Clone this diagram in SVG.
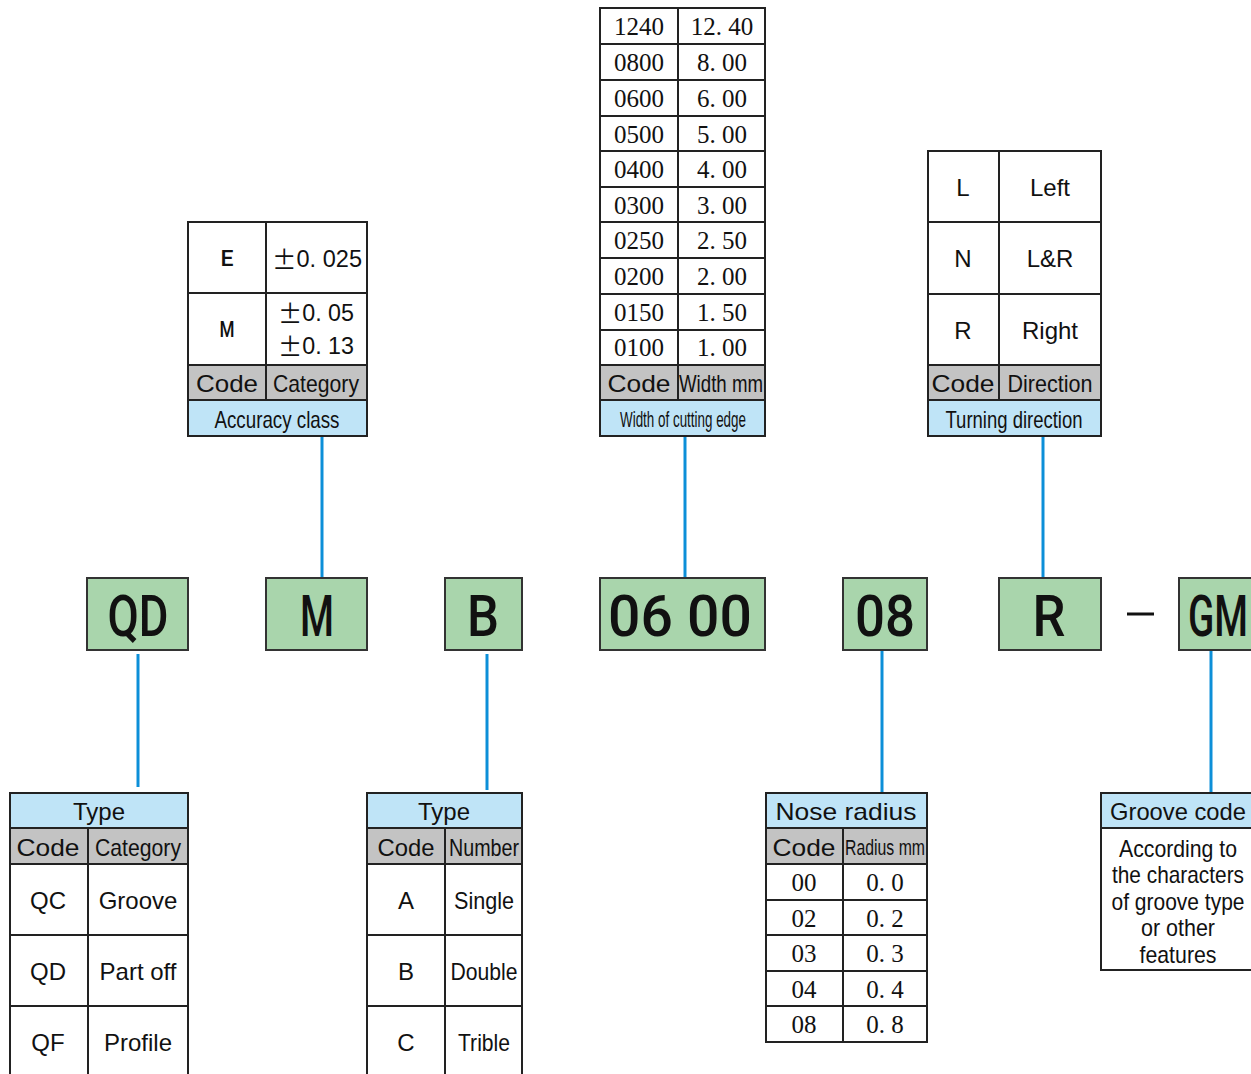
<svg xmlns="http://www.w3.org/2000/svg" width="1251" height="1074" viewBox="0 0 1251 1074">
<style>
.bg{fill:#ffffff}
.cell{fill:#ffffff;stroke:#222;stroke-width:2}
.ln{stroke:#222;stroke-width:2;fill:none}
.hdr{fill:#c3c3c3;stroke:#222;stroke-width:2}
.ttl{fill:#bfe4f7;stroke:#222;stroke-width:2}
.code{fill:#a9d5ac;stroke:#333;stroke-width:2}
.conn{stroke:#0c8fd8;stroke-width:3;fill:none}
text{font-family:"Liberation Sans",Arial,sans-serif;fill:#111;text-anchor:middle;dominant-baseline:central}
.t{font-size:24px}
.s{font-size:22px}
.em{font-family:Roboto,"Liberation Sans",sans-serif;font-weight:500;font-size:22px}
.pm{font-family:"Noto Sans CJK SC","Liberation Sans",sans-serif;font-size:25px}
.ser{font-family:"Liberation Serif","Times New Roman",serif;font-size:25px}
.big{font-family:Roboto,"Liberation Sans",sans-serif;font-weight:500;font-size:58px}
</style>
<rect class="bg" x="0" y="0" width="1251" height="1074"/>

<g id="connectors">
<line class="conn" x1="322" y1="436" x2="322" y2="578"/>
<line class="conn" x1="685" y1="436" x2="685" y2="578"/>
<line class="conn" x1="1043" y1="436" x2="1043" y2="578"/>
<line class="conn" x1="138" y1="654" x2="138" y2="787"/>
<line class="conn" x1="487" y1="654" x2="487" y2="790"/>
<line class="conn" x1="882" y1="651" x2="882" y2="793"/>
<line class="conn" x1="1211" y1="651" x2="1211" y2="793"/>
</g>

<g id="code-QD">
<rect class="code" x="87" y="578" width="101" height="72"/>
<text class="big" x="138" y="616" textLength="61" lengthAdjust="spacingAndGlyphs">QD</text>
</g>
<g id="code-M">
<rect class="code" x="266" y="578" width="101" height="72"/>
<text class="big" x="317" y="616" textLength="34" lengthAdjust="spacingAndGlyphs">M</text>
</g>
<g id="code-B">
<rect class="code" x="445" y="578" width="77" height="72"/>
<text class="big" x="483" y="616" textLength="32" lengthAdjust="spacingAndGlyphs">B</text>
</g>
<g id="code-0600">
<rect class="code" x="600" y="578" width="165" height="72"/>
<text class="big" x="680" y="616" textLength="144" lengthAdjust="spacingAndGlyphs">06 00</text>
</g>
<g id="code-08">
<rect class="code" x="843" y="578" width="84" height="72"/>
<text class="big" x="885" y="616" textLength="60" lengthAdjust="spacingAndGlyphs">08</text>
</g>
<g id="code-R">
<rect class="code" x="999" y="578" width="102" height="72"/>
<text class="big" x="1049" y="616" textLength="33" lengthAdjust="spacingAndGlyphs">R</text>
</g>
<g id="dash">
<line x1="1127" y1="614" x2="1154" y2="614" stroke="#111" stroke-width="3"/>
</g>
<g id="code-GM">
<rect class="code" x="1179" y="578" width="73" height="72"/>
<text class="big" x="1218" y="616" textLength="60" lengthAdjust="spacingAndGlyphs">GM</text>
</g>

<g id="table-accuracy">
<rect class="cell" x="188" y="222" width="179" height="214"/>
<rect class="hdr" x="188" y="365" width="179" height="35"/>
<rect class="ttl" x="188" y="400" width="179" height="36"/>
<line class="ln" x1="266" y1="222" x2="266" y2="400"/>
<line class="ln" x1="188" y1="293" x2="367" y2="293"/>
<text class="em" x="227" y="258" textLength="13" lengthAdjust="spacingAndGlyphs">E</text>
<text class="t" x="317" y="258" textLength="90" lengthAdjust="spacingAndGlyphs"><tspan class="pm">±</tspan>0. 025</text>
<text class="em" x="227" y="329" textLength="15" lengthAdjust="spacingAndGlyphs">M</text>
<text class="t" x="316" y="312" textLength="76" lengthAdjust="spacingAndGlyphs"><tspan class="pm">±</tspan>0. 05</text>
<text class="t" x="316" y="345" textLength="76" lengthAdjust="spacingAndGlyphs"><tspan class="pm">±</tspan>0. 13</text>
<text class="t" x="227" y="383" textLength="62" lengthAdjust="spacingAndGlyphs">Code</text>
<text class="t" x="316" y="383" textLength="86" lengthAdjust="spacingAndGlyphs">Category</text>
<text class="t" x="277" y="419" textLength="125" lengthAdjust="spacingAndGlyphs">Accuracy class</text>
</g>

<g id="table-width">
<rect class="cell" x="600" y="8" width="165" height="428"/>
<rect class="hdr" x="600" y="365" width="165" height="35"/>
<rect class="ttl" x="600" y="400" width="165" height="36"/>
<line class="ln" x1="678" y1="8" x2="678" y2="400"/>
<line class="ln" x1="600" y1="44" x2="765" y2="44"/>
<line class="ln" x1="600" y1="80" x2="765" y2="80"/>
<line class="ln" x1="600" y1="116" x2="765" y2="116"/>
<line class="ln" x1="600" y1="151" x2="765" y2="151"/>
<line class="ln" x1="600" y1="187" x2="765" y2="187"/>
<line class="ln" x1="600" y1="222" x2="765" y2="222"/>
<line class="ln" x1="600" y1="258" x2="765" y2="258"/>
<line class="ln" x1="600" y1="294" x2="765" y2="294"/>
<line class="ln" x1="600" y1="330" x2="765" y2="330"/>
<text class="ser" x="639" y="26">1240</text><text class="ser" x="722" y="26">12. 40</text>
<text class="ser" x="639" y="62">0800</text><text class="ser" x="722" y="62">8. 00</text>
<text class="ser" x="639" y="98">0600</text><text class="ser" x="722" y="98">6. 00</text>
<text class="ser" x="639" y="134">0500</text><text class="ser" x="722" y="134">5. 00</text>
<text class="ser" x="639" y="169">0400</text><text class="ser" x="722" y="169">4. 00</text>
<text class="ser" x="639" y="205">0300</text><text class="ser" x="722" y="205">3. 00</text>
<text class="ser" x="639" y="240">0250</text><text class="ser" x="722" y="240">2. 50</text>
<text class="ser" x="639" y="276">0200</text><text class="ser" x="722" y="276">2. 00</text>
<text class="ser" x="639" y="312">0150</text><text class="ser" x="722" y="312">1. 50</text>
<text class="ser" x="639" y="347">0100</text><text class="ser" x="722" y="347">1. 00</text>
<text class="t" x="639" y="383" textLength="63" lengthAdjust="spacingAndGlyphs">Code</text>
<text class="t" x="721" y="383" textLength="84" lengthAdjust="spacingAndGlyphs">Width mm</text>
<text class="s" x="683" y="419" textLength="126" lengthAdjust="spacingAndGlyphs">Width of cutting edge</text>
</g>

<g id="table-direction">
<rect class="cell" x="928" y="151" width="173" height="285"/>
<rect class="hdr" x="928" y="365" width="173" height="35"/>
<rect class="ttl" x="928" y="400" width="173" height="36"/>
<line class="ln" x1="999" y1="151" x2="999" y2="400"/>
<line class="ln" x1="928" y1="222" x2="1101" y2="222"/>
<line class="ln" x1="928" y1="294" x2="1101" y2="294"/>
<text class="t" x="963" y="187">L</text><text class="t" x="1050" y="187">Left</text>
<text class="t" x="963" y="258">N</text><text class="t" x="1050" y="258">L&amp;R</text>
<text class="t" x="963" y="330">R</text><text class="t" x="1050" y="330">Right</text>
<text class="t" x="963" y="383" textLength="63" lengthAdjust="spacingAndGlyphs">Code</text>
<text class="t" x="1050" y="383" textLength="85" lengthAdjust="spacingAndGlyphs">Direction</text>
<text class="t" x="1014" y="419" textLength="137" lengthAdjust="spacingAndGlyphs">Turning direction</text>
</g>

<g id="table-type">
<rect class="cell" x="10" y="793" width="178" height="295"/>
<rect class="ttl" x="10" y="793" width="178" height="35"/>
<rect class="hdr" x="10" y="828" width="178" height="36"/>
<line class="ln" x1="88" y1="828" x2="88" y2="1080"/>
<line class="ln" x1="10" y1="935" x2="188" y2="935"/>
<line class="ln" x1="10" y1="1006" x2="188" y2="1006"/>
<text class="t" x="99" y="811">Type</text>
<text class="t" x="48" y="847" textLength="63" lengthAdjust="spacingAndGlyphs">Code</text>
<text class="t" x="138" y="847" textLength="86" lengthAdjust="spacingAndGlyphs">Category</text>
<text class="t" x="48" y="900">QC</text><text class="t" x="138" y="900">Groove</text>
<text class="t" x="48" y="971">QD</text><text class="t" x="138" y="971">Part off</text>
<text class="t" x="48" y="1042">QF</text><text class="t" x="138" y="1042">Profile</text>
</g>

<g id="table-number">
<rect class="cell" x="367" y="793" width="155" height="295"/>
<rect class="ttl" x="367" y="793" width="155" height="35"/>
<rect class="hdr" x="367" y="828" width="155" height="36"/>
<line class="ln" x1="445" y1="828" x2="445" y2="1080"/>
<line class="ln" x1="367" y1="935" x2="522" y2="935"/>
<line class="ln" x1="367" y1="1006" x2="522" y2="1006"/>
<text class="t" x="444" y="811">Type</text>
<text class="t" x="406" y="847" textLength="57" lengthAdjust="spacingAndGlyphs">Code</text>
<text class="t" x="484" y="847" textLength="70" lengthAdjust="spacingAndGlyphs">Number</text>
<text class="t" x="406" y="900">A</text><text class="t" x="484" y="900" textLength="60" lengthAdjust="spacingAndGlyphs">Single</text>
<text class="t" x="406" y="971">B</text><text class="t" x="484" y="971" textLength="67" lengthAdjust="spacingAndGlyphs">Double</text>
<text class="t" x="406" y="1042">C</text><text class="t" x="484" y="1042" textLength="52" lengthAdjust="spacingAndGlyphs">Trible</text>
</g>

<g id="table-nose">
<rect class="cell" x="766" y="793" width="161" height="249"/>
<rect class="ttl" x="766" y="793" width="161" height="35"/>
<rect class="hdr" x="766" y="828" width="161" height="36"/>
<line class="ln" x1="843" y1="828" x2="843" y2="1042"/>
<line class="ln" x1="766" y1="900" x2="927" y2="900"/>
<line class="ln" x1="766" y1="935" x2="927" y2="935"/>
<line class="ln" x1="766" y1="971" x2="927" y2="971"/>
<line class="ln" x1="766" y1="1006" x2="927" y2="1006"/>
<text class="t" x="846" y="811" textLength="141" lengthAdjust="spacingAndGlyphs">Nose radius</text>
<text class="t" x="804" y="847" textLength="63" lengthAdjust="spacingAndGlyphs">Code</text>
<text class="s" x="885" y="847" textLength="80" lengthAdjust="spacingAndGlyphs">Radius mm</text>
<text class="ser" x="804" y="882">00</text><text class="ser" x="885" y="882">0. 0</text>
<text class="ser" x="804" y="918">02</text><text class="ser" x="885" y="918">0. 2</text>
<text class="ser" x="804" y="953">03</text><text class="ser" x="885" y="953">0. 3</text>
<text class="ser" x="804" y="989">04</text><text class="ser" x="885" y="989">0. 4</text>
<text class="ser" x="804" y="1024">08</text><text class="ser" x="885" y="1024">0. 8</text>
</g>

<g id="table-groove">
<rect class="cell" x="1101" y="793" width="151" height="177"/>
<rect class="ttl" x="1101" y="793" width="151" height="35"/>
<text class="t" x="1178" y="811" textLength="136" lengthAdjust="spacingAndGlyphs">Groove code</text>
<text class="t" x="1178" y="848" textLength="118" lengthAdjust="spacingAndGlyphs">According to</text>
<text class="t" x="1178" y="874" textLength="132" lengthAdjust="spacingAndGlyphs">the characters</text>
<text class="t" x="1178" y="901" textLength="133" lengthAdjust="spacingAndGlyphs">of groove type</text>
<text class="t" x="1178" y="927" textLength="74" lengthAdjust="spacingAndGlyphs">or other</text>
<text class="t" x="1178" y="954" textLength="77" lengthAdjust="spacingAndGlyphs">features</text>
</g>
</svg>
